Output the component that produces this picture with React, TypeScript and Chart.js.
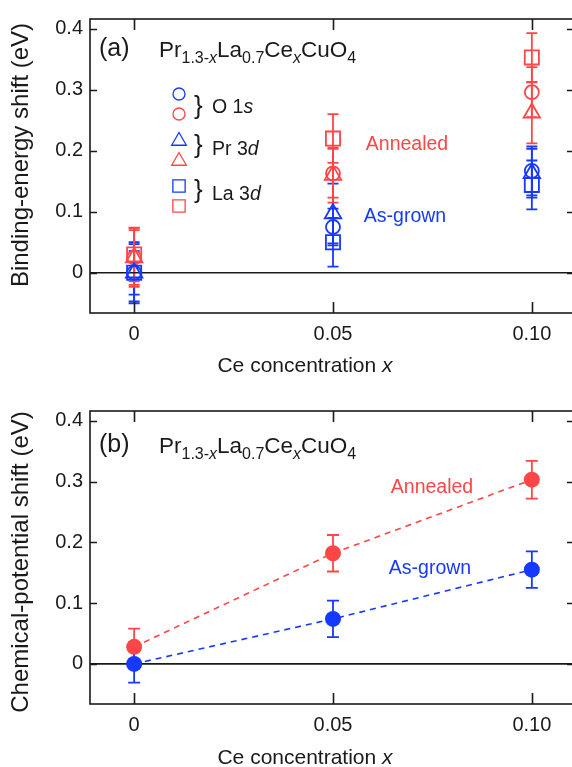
import React, { useEffect, useRef } from 'react';
import { Chart, registerables } from 'chart.js';

Chart.register(...registerables);

// ---------------- data ----------------
const ceConcentration = [0, 0.05, 0.1];
const xTickValues = [0, 0.05, 0.1];
const xTickLabels = ['0', '0.05', '0.10'];
const yTickValues = [0, 0.1, 0.2, 0.3, 0.4];
const yTickLabels = ['0', '0.1', '0.2', '0.3', '0.4'];

// (a) binding-energy shift (eV)
const asGrownO1s = [0, 0.075, 0.167];
const asGrownO1sErr = [0.05, 0.03, 0.04];
const asGrownPr3d = [0, 0.097, 0.163];
const asGrownPr3dErr = [0.047, 0.049, 0.04];
const asGrownLa3d = [0, 0.05, 0.144];
const asGrownLa3dErr = [0.036, 0.04, 0.04];
const annealedO1s = [0.025, 0.163, 0.296];
const annealedO1sErr = [0.048, 0.04, 0.041];
const annealedPr3d = [0.025, 0.16, 0.262];
const annealedPr3dErr = [0.045, 0.045, 0.05];
const annealedLa3d = [0.03, 0.22, 0.353];
const annealedLa3dErr = [0.044, 0.04, 0.04];

// (b) chemical-potential shift (eV)
const asGrownMu = [0, 0.074, 0.155];
const asGrownMuErr = [0.031, 0.03, 0.03];
const annealedMu = [0.028, 0.182, 0.303];
const annealedMuErr = [0.03, 0.03, 0.031];

const X_MIN = -0.0111;
const X_MAX = 0.1106;
const Y_MIN = -0.066;
const Y_MAX = 0.416;

// ---------------- style ----------------
const RED = '#ff4646';
const BLUE = '#1639ff';
const INK = '#1a1a1a';
const FONT = '"Liberation Sans", Arial, Helvetica, sans-serif';
const CANVAS_W = 580;
const PLOT_LEFT = 90;
const PLOT_RIGHT = 574;

type Seg = { t: string; sub?: boolean; it?: boolean };
const formulaSegs: Seg[] = [
  { t: 'Pr' }, { t: '1.3-', sub: true }, { t: 'x', sub: true, it: true },
  { t: 'La' }, { t: '0.7', sub: true }, { t: 'Ce' }, { t: 'x', sub: true, it: true },
  { t: 'CuO' }, { t: '4', sub: true },
];

const pts = (xs: number[], ys: number[]) => xs.map((x, i) => ({ x, y: ys[i] }));

function richWidth(ctx: CanvasRenderingContext2D, segs: Seg[], size: number, subSize: number) {
  let w = 0;
  for (const s of segs) {
    ctx.font = `${s.it ? 'italic ' : ''}${s.sub ? subSize : size}px ${FONT}`;
    w += ctx.measureText(s.t).width;
  }
  return w;
}

function drawRich(ctx: CanvasRenderingContext2D, x: number, y: number, segs: Seg[], size: number, subSize: number, subOff: number, color: string) {
  let cx = x;
  ctx.fillStyle = color;
  ctx.textAlign = 'left';
  ctx.textBaseline = 'alphabetic';
  for (const s of segs) {
    ctx.font = `${s.it ? 'italic ' : ''}${s.sub ? subSize : size}px ${FONT}`;
    ctx.fillText(s.t, cx, y + (s.sub ? subOff : 0));
    cx += ctx.measureText(s.t).width;
  }
}

function drawMarker(ctx: CanvasRenderingContext2D, style: string, x: number, y: number, r: number, color: string, lw: number) {
  ctx.save();
  ctx.strokeStyle = color;
  ctx.lineWidth = lw;
  ctx.beginPath();
  if (style === 'circle') {
    ctx.arc(x, y, r, 0, Math.PI * 2);
  } else if (style === 'triangle') {
    for (let k = 0; k < 3; k++) {
      const a = k * (2 * Math.PI / 3);
      const px = x + Math.sin(a) * r;
      const py = y - Math.cos(a) * r;
      if (k === 0) ctx.moveTo(px, py); else ctx.lineTo(px, py);
    }
    ctx.closePath();
  } else {
    const s = Math.SQRT1_2 * r;
    ctx.rect(x - s, y - s, 2 * s, 2 * s);
  }
  ctx.stroke();
  ctx.restore();
}

function drawText(ctx: CanvasRenderingContext2D, text: string, x: number, y: number, size: number, color: string, align: CanvasTextAlign) {
  ctx.font = `${size}px ${FONT}`;
  ctx.fillStyle = color;
  ctx.textAlign = align;
  ctx.textBaseline = 'alphabetic';
  ctx.fillText(text, x, y);
}

const errorBarPlugin = {
  id: 'errorBars',
  beforeDatasetsDraw(chart: any) {
    const { ctx } = chart;
    const xs = chart.scales.x;
    const ys = chart.scales.y;
    chart.data.datasets.forEach((ds: any) => {
      if (!ds.errors) return;
      ctx.save();
      ctx.strokeStyle = ds.errColor;
      ctx.lineWidth = ds.errWidth || 1.8;
      const cap = ds.capHalf || 5.5;
      ds.data.forEach((p: any, j: number) => {
        const px = xs.getPixelForValue(p.x);
        const top = ys.getPixelForValue(p.y + ds.errors[j]);
        const bot = ys.getPixelForValue(p.y - ds.errors[j]);
        ctx.beginPath();
        ctx.moveTo(px, top); ctx.lineTo(px, bot);
        ctx.moveTo(px - cap, top); ctx.lineTo(px + cap, top);
        ctx.moveTo(px - cap, bot); ctx.lineTo(px + cap, bot);
        ctx.stroke();
      });
      ctx.restore();
    });
  },
};

function framePlugin(annotate: (ctx: CanvasRenderingContext2D, chart: any) => void) {
  return {
    id: 'frame',
    beforeDatasetsDraw(chart: any) {
      const { ctx, chartArea: a } = chart;
      const y0 = chart.scales.y.getPixelForValue(0);
      ctx.save();
      ctx.strokeStyle = INK;
      ctx.lineWidth = 1.6;
      ctx.beginPath();
      ctx.moveTo(a.left, y0); ctx.lineTo(a.right, y0);
      ctx.stroke();
      ctx.restore();
    },
    afterDraw(chart: any) {
      const { ctx, chartArea: a } = chart;
      const xs = chart.scales.x;
      const ys = chart.scales.y;
      ctx.save();
      ctx.strokeStyle = INK;
      ctx.lineWidth = 1.6;
      ctx.strokeRect(a.left, a.top, a.right - a.left, a.bottom - a.top);
      ctx.beginPath();
      xTickValues.forEach((v) => {
        const px = Math.round(xs.getPixelForValue(v)) + 0.5;
        ctx.moveTo(px, a.bottom); ctx.lineTo(px, a.bottom - 11);
        ctx.moveTo(px, a.top); ctx.lineTo(px, a.top + 11);
      });
      yTickValues.forEach((v) => {
        const py = Math.round(ys.getPixelForValue(v)) + 0.5;
        ctx.moveTo(a.left, py); ctx.lineTo(a.left + 7, py);
        ctx.moveTo(a.right, py); ctx.lineTo(a.right - 7, py);
      });
      ctx.stroke();
      ctx.restore();
      ctx.save();
      annotate(ctx, chart);
      ctx.restore();
    },
  };
}

function axisTitleX(ctx: CanvasRenderingContext2D, cx: number, baseline: number) {
  const segs: Seg[] = [{ t: 'Ce concentration ' }, { t: 'x', it: true }];
  const w = richWidth(ctx, segs, 21, 21);
  drawRich(ctx, cx - w / 2, baseline, segs, 21, 21, 0, INK);
}

function axisTitleY(ctx: CanvasRenderingContext2D, text: string, bx: number, cy: number) {
  ctx.save();
  ctx.translate(bx, cy);
  ctx.rotate(-Math.PI / 2);
  drawText(ctx, text, 0, 0, 24, INK, 'center');
  ctx.restore();
}

function makeOptions(canvasH: number, plotTop: number, plotBottom: number) {
  return {
    responsive: false,
    animation: false as const,
    layout: { autoPadding: false, padding: { top: plotTop, right: CANVAS_W - PLOT_RIGHT, left: 0, bottom: 0 } },
    plugins: { legend: { display: false }, tooltip: { enabled: false } },
    scales: {
      x: {
        type: 'linear' as const,
        min: X_MIN,
        max: X_MAX,
        afterFit: (s: any) => { s.height = canvasH - plotBottom; },
        afterBuildTicks: (s: any) => { s.ticks = xTickValues.map((v) => ({ value: v })); },
        ticks: {
          autoSkip: false,
          maxRotation: 0,
          padding: 9,
          color: INK,
          font: { family: FONT, size: 20 },
          callback: (_v: any, i: number) => xTickLabels[i],
        },
        grid: { display: false, drawTicks: false },
        border: { display: false },
      },
      y: {
        type: 'linear' as const,
        min: Y_MIN,
        max: Y_MAX,
        afterFit: (s: any) => { s.width = PLOT_LEFT; },
        afterBuildTicks: (s: any) => { s.ticks = yTickValues.map((v) => ({ value: v })); },
        ticks: {
          autoSkip: false,
          padding: 7,
          color: INK,
          font: { family: FONT, size: 20 },
          callback: (_v: any, i: number) => yTickLabels[i],
        },
        grid: { display: false, drawTicks: false },
        border: { display: false },
      },
    },
  };
}

function hollow(label: string, ys: number[], errs: number[], style: string, color: string, r: number) {
  return {
    label,
    data: pts(ceConcentration, ys),
    errors: errs,
    errColor: color,
    capHalf: 5.5,
    errWidth: 1.8,
    showLine: false,
    pointStyle: style,
    pointRadius: r,
    pointBorderColor: color,
    pointBackgroundColor: 'rgba(255,255,255,0)',
    pointBorderWidth: 1.8,
  };
}

function filled(label: string, ys: number[], errs: number[], color: string) {
  return {
    label,
    data: pts(ceConcentration, ys),
    errors: errs,
    errColor: color,
    capHalf: 6,
    errWidth: 1.8,
    showLine: true,
    borderColor: color,
    borderWidth: 1.6,
    borderDash: [6, 5],
    pointStyle: 'circle',
    pointRadius: 8,
    pointBorderWidth: 0,
    pointBackgroundColor: color,
    pointBorderColor: color,
  };
}

const A_TOP = 0;
const A_H = 390;
const B_TOP = 390;
const B_H = 377;

function annotateA(ctx: CanvasRenderingContext2D) {
  const o = A_TOP;
  drawText(ctx, '(a)', 99, 56 - o, 25, INK, 'left');
  drawRich(ctx, 159, 57 - o, formulaSegs, 22.5, 16, 6, INK);
  // legend
  drawMarker(ctx, 'circle', 179, 94 - o, 6, BLUE, 1.3);
  drawMarker(ctx, 'circle', 179, 114 - o, 6, RED, 1.3);
  drawMarker(ctx, 'triangle', 179, 141 - o, 8.5, BLUE, 1.3);
  drawMarker(ctx, 'triangle', 179, 161 - o, 8.5, RED, 1.3);
  drawMarker(ctx, 'rect', 179, 186 - o, 8.7, BLUE, 1.3);
  drawMarker(ctx, 'rect', 179, 206 - o, 8.7, RED, 1.3);
  drawText(ctx, '}', 194, 114 - o, 26, INK, 'left');
  drawText(ctx, '}', 194, 153 - o, 26, INK, 'left');
  drawText(ctx, '}', 194, 198 - o, 26, INK, 'left');
  drawRich(ctx, 212, 113 - o, [{ t: 'O 1' }, { t: 's', it: true }], 19.5, 19.5, 0, INK);
  drawRich(ctx, 212, 155 - o, [{ t: 'Pr 3' }, { t: 'd', it: true }], 19.5, 19.5, 0, INK);
  drawRich(ctx, 212, 200 - o, [{ t: 'La 3' }, { t: 'd', it: true }], 19.5, 19.5, 0, INK);
  drawText(ctx, 'Annealed', 407, 150 - o, 19.5, RED, 'center');
  drawText(ctx, 'As-grown', 405, 222 - o, 19.5, BLUE, 'center');
  axisTitleX(ctx, 305, 372 - o);
  axisTitleY(ctx, 'Binding-energy shift (eV)', 28, 155 - o);
}

function annotateB(ctx: CanvasRenderingContext2D) {
  const o = B_TOP;
  drawText(ctx, '(b)', 99, 452 - o, 25, INK, 'left');
  drawRich(ctx, 159, 453 - o, formulaSegs, 22.5, 16, 6, INK);
  drawText(ctx, 'Annealed', 432, 493 - o, 19.5, RED, 'center');
  drawText(ctx, 'As-grown', 430, 574 - o, 19.5, BLUE, 'center');
  axisTitleX(ctx, 305, 764 - o);
  axisTitleY(ctx, 'Chemical-potential shift (eV)', 28, 562 - o);
}

export default function App() {
  const refA = useRef<HTMLCanvasElement | null>(null);
  const refB = useRef<HTMLCanvasElement | null>(null);

  useEffect(() => {
    if (!refA.current || !refB.current) return;
    const chartA = new Chart(refA.current, {
      type: 'scatter',
      data: {
        datasets: [
          hollow('As-grown O 1s', asGrownO1s, asGrownO1sErr, 'circle', BLUE, 7),
          hollow('As-grown Pr 3d', asGrownPr3d, asGrownPr3dErr, 'triangle', BLUE, 9.5),
          hollow('As-grown La 3d', asGrownLa3d, asGrownLa3dErr, 'rect', BLUE, 10),
          hollow('Annealed O 1s', annealedO1s, annealedO1sErr, 'circle', RED, 7),
          hollow('Annealed Pr 3d', annealedPr3d, annealedPr3dErr, 'triangle', RED, 9.5),
          hollow('Annealed La 3d', annealedLa3d, annealedLa3dErr, 'rect', RED, 10),
        ] as any,
      },
      options: makeOptions(A_H, 17, 313) as any,
      plugins: [errorBarPlugin as any, framePlugin((ctx) => annotateA(ctx)) as any],
    });
    const chartB = new Chart(refB.current, {
      type: 'scatter',
      data: {
        datasets: [
          filled('Annealed', annealedMu, annealedMuErr, RED),
          filled('As-grown', asGrownMu, asGrownMuErr, BLUE),
        ] as any,
      },
      options: makeOptions(B_H, 21, 314) as any,
      plugins: [errorBarPlugin as any, framePlugin((ctx) => annotateB(ctx)) as any],
    });
    return () => {
      chartA.destroy();
      chartB.destroy();
    };
  }, []);

  return (
    <div style={{ position: 'absolute', left: 0, top: 0, width: 572, height: 767, overflow: 'hidden', background: '#fff' }}>
      <canvas ref={refA} width={CANVAS_W} height={A_H} style={{ position: 'absolute', left: 0, top: A_TOP, width: CANVAS_W, height: A_H }} />
      <canvas ref={refB} width={CANVAS_W} height={B_H} style={{ position: 'absolute', left: 0, top: B_TOP, width: CANVAS_W, height: B_H }} />
    </div>
  );
}
